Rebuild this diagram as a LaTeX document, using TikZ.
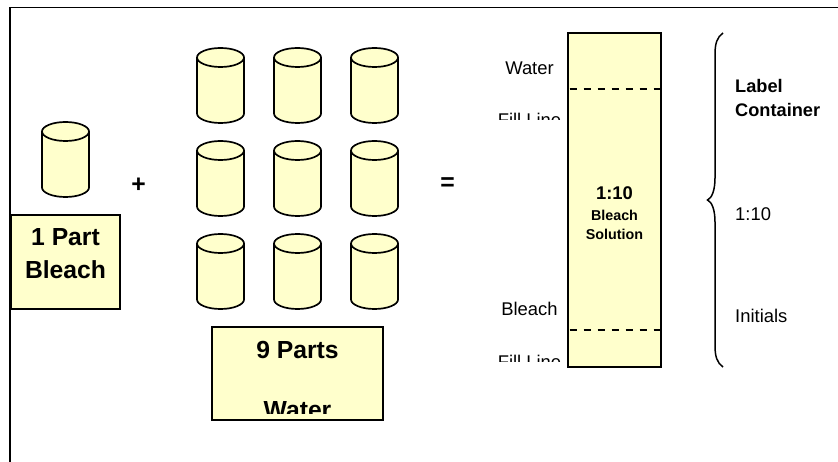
\documentclass[tikz,border=0pt]{standalone}
\usepackage{fontspec}
\setmainfont{Liberation Sans}
\usepackage{tikz}
\usetikzlibrary{positioning}
\definecolor{paleyellow}{HTML}{FFFFCC}

\begin{document}
\begin{tikzpicture}[x=1pt, y=-1pt]
  \tikzstyle{drum} = [rectangle, minimum width=47pt, minimum height=75pt, inner sep=0pt, outer sep=0pt,
    append after command={\pgfextra{
      \draw[line width=1.7pt, fill=paleyellow] ([yshift=-9.5pt]\tikzlastnode.north west)
        arc[start angle=180, end angle=0, x radius=23.5pt, y radius=9.5pt]
        -- ([yshift=9.5pt]\tikzlastnode.south east)
        arc[start angle=0, end angle=-180, x radius=23.5pt, y radius=9.5pt] -- cycle;
      \draw[line width=1.7pt] ([yshift=-9.5pt]\tikzlastnode.north west)
        arc[start angle=180, end angle=360, x radius=23.5pt, y radius=9.5pt];
    }}]
  \tikzstyle{partbox} = [rectangle, draw=black, fill=paleyellow, line width=1.7pt, outer sep=0pt, inner sep=0pt]
  \tikzstyle{bigtext} = [font=\fontsize{24.7}{33}\selectfont\bfseries, anchor=base, align=center, inner sep=0pt]
  \tikzstyle{midtext} = [font=\fontsize{18.4}{24}\selectfont, anchor=base west, inner sep=0pt]
  \tikzstyle{filltext} = [font=\fontsize{18.4}{24}\selectfont, anchor=base, inner sep=0pt]
  \tikzstyle{smalltext} = [font=\fontsize{14.3}{19}\selectfont\bfseries, anchor=base, inner sep=0pt]
  \tikzstyle{fillline} = [line width=1.7pt, dash pattern=on 7pt off 7pt, dash phase=12.3pt]
  \useasboundingbox (0,0) rectangle (838,462);
  % frame, only two sides show
  \coordinate (framea) at (10,462);
  \coordinate (frameb) at (10,7.5);
  \coordinate (framec) at (838,7.5);
  \draw[line width=1.7pt] (framea) -- (frameb) -- (framec);
  % one part
  \node[drum] (bleachdrum) at (65.5,159.5) {};
  \node[partbox, minimum width=109pt, minimum height=94pt] (bleachbox) at (65.5,262) {};
  \node[bigtext] (bleachtext) at (65.5,279) {1 Part\\Bleach};
  % nine parts
  \node[drum] (w1) at (220.5,85.5) {};
  \node[drum, right=30pt of w1] (w2) {};
  \node[drum, right=30pt of w2] (w3) {};
  \node[drum, below=18pt of w1] (w4) {};
  \node[drum, right=30pt of w4] (w5) {};
  \node[drum, right=30pt of w5] (w6) {};
  \node[drum, below=18pt of w4] (w7) {};
  \node[drum, right=30pt of w7] (w8) {};
  \node[drum, right=30pt of w8] (w9) {};
  \node[partbox, minimum width=171pt, minimum height=93pt] (waterbox) at (297.5,373.5) {};
  \node[bigtext] (ninetext) at (297.5,358) {9 Parts};
  \begin{scope}
    \clip (212,340) rectangle (383,413.5);
    \node[bigtext] (watertext) at (297.5,418) {Water};
  \end{scope}
  \node[bigtext] (plus) at (138.5,193) {+};
  \node[bigtext] (equal) at (447.5,191) {=};
  % container
  \node[partbox, minimum width=93pt, minimum height=334pt] (bar) at (614.5,200) {};
  \coordinate (wl) at (568,89);
  \coordinate (wr) at (661,89);
  \coordinate (bl) at (568,330);
  \coordinate (br) at (661,330);
  \draw[fillline] (wl) -- (wr);
  \draw[fillline] (bl) -- (br);
  \node[font=\fontsize{18.4}{24}\selectfont\bfseries, anchor=base, inner sep=0pt] (ratio) at (614.5,200) {1:10};
  \node[smalltext] (bartexta) at (614.5,221) {Bleach};
  \node[smalltext] (bartextb) at (614.5,240) {Solution};
  % labels on the left
  \node[filltext] (watertag) at (529.5,75) {Water};
  \begin{scope}
    \clip (480,100) rectangle (561,120);
    \node[filltext] (waterline) at (529.5,126.5) {Fill Line};
  \end{scope}
  \node[filltext] (bleachtag) at (529.5,316) {Bleach};
  \begin{scope}
    \clip (480,345) rectangle (561,361);
    \node[filltext] (bleachline) at (529.5,368.5) {Fill Line};
  \end{scope}
  % brace
  \coordinate (bracetop) at (723,33);
  \coordinate (bracetip) at (707.5,200);
  \coordinate (bracebot) at (723,367);
  \draw[line width=1.5pt] (bracetop) .. controls (717,37) and (715,44) .. (715,54)
    -- (715,178) .. controls (715,190) and (712,198) .. (bracetip)
    .. controls (712,202) and (715,210) .. (715,222)
    -- (715,346) .. controls (715,356) and (717,363) .. (bracebot);
  % labels on the right
  \node[midtext, font=\fontsize{18.2}{24}\selectfont\bfseries] (labela) at (735,93) {Label};
  \node[midtext, font=\fontsize{18.2}{24}\selectfont\bfseries] (labelb) at (735,117) {Container};
  \node[midtext] (labelc) at (735,221) {1:10};
  \node[midtext] (labeld) at (735,323) {Initials};
\end{tikzpicture}
\end{document}
